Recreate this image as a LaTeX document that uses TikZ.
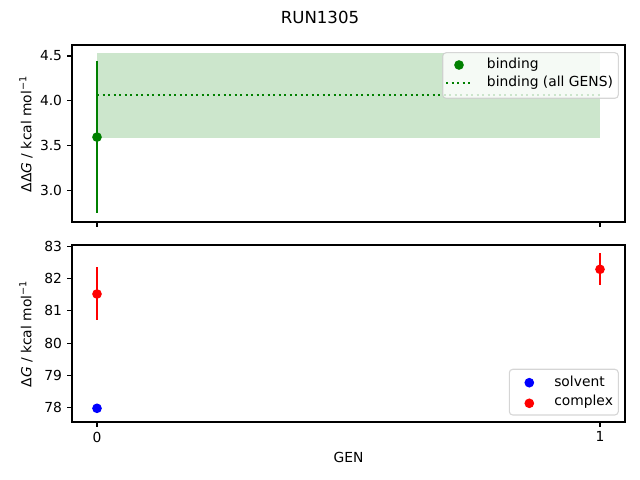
\documentclass[tikz,border=0pt]{standalone}
\usepackage{fontspec}
\setmainfont{DejaVu Sans}
\definecolor{mgreen}{HTML}{008000}
\definecolor{mblue}{HTML}{0000FF}
\definecolor{mred}{HTML}{FF0000}
\definecolor{legedge}{gray}{0.8}
\tikzset{
  spine/.style={line width=0.8pt, black},
  tickmark/.style={line width=0.8pt, black},
  ticklab/.style={font=\fontsize{10}{12}\selectfont, inner sep=0pt},
  errline/.style={line width=1.5pt, line cap=butt},
  dot/.style={circle, fill=#1, draw=none, minimum size=7pt, inner sep=0pt},
  legbox/.style={draw=legedge, fill=white, fill opacity=0.8, draw opacity=0.8, rounded corners=2.5pt, line width=0.8pt},
  labtext/.style={font=\fontsize{10}{12}\selectfont, inner sep=0pt}
}
\newcommand{\supm}{\textsuperscript{\fontsize{7}{8}\selectfont −1}}
\begin{document}
\begin{tikzpicture}[x=0.01in, y=-0.01in]
\useasboundingbox (0,0) rectangle (640,480);
% ---------- title ----------
\node[font=\fontsize{12}{14}\selectfont, inner sep=0pt] (title) at (320,17) {RUN1305};
% ---------- top axes ----------
\fill[mgreen, opacity=0.2] (97,53.3) rectangle (600,138.3);
\draw[mgreen, line width=1.5pt, dash pattern=on 1.5pt off 2.475pt] (97,94.7) -- (600,94.7);
\draw[mgreen, errline] (97,61) -- (97,213.3);
\node[dot=mgreen] (bind0) at (97,137.1) {};
\draw[spine] (72,45) rectangle (625,222);
% y ticks top
\foreach \v/\yy in {4.5/56, 4.0/100.8, 3.5/145.5, 3.0/190.3}{
  \draw[tickmark] (72,\yy) -- (67.14,\yy);
  \node[ticklab, anchor=east] at (62.3,\yy) {\v};
}
% x ticks top (no labels)
\foreach \xx in {97,600}{
  \draw[tickmark] (\xx,222) -- (\xx,226.86);
}
\node[labtext, rotate=90] (ylabtop) at (26,134) {ΔΔ\textit{G} / kcal mol\supm};
% legend top
\draw[legbox] (442.7,52.7) rectangle (618.3,98.3);
\node[dot=mgreen] (legbind) at (459,65) {};
\node[labtext, anchor=west] at (486.7,65) {binding};
\draw[mgreen, line width=1.5pt, dash pattern=on 1.5pt off 2.475pt] (446,82.7) -- (472,82.7);
\node[labtext, anchor=west] at (486.7,83) {binding (all GENS)};
% ---------- bottom axes ----------
\draw[mred, errline] (97,267.3) -- (97,320);
\node[dot=mred] (c0) at (97,294) {};
\draw[mred, errline] (600,253.3) -- (600,285.3);
\node[dot=mred] (c1) at (600,269.3) {};
\draw[mblue, errline] (97,406) -- (97,410.6);
\node[dot=mblue] (s0) at (97,408.3) {};
\draw[spine] (72,245) rectangle (625,422);
\foreach \v in {78,79,80,81,82,83}{
  \pgfmathsetmacro{\yy}{246.7+(83-\v)*32.12}
  \draw[tickmark] (72,\yy) -- (67.14,\yy);
  \node[ticklab, anchor=east] at (62.3,\yy) {\v};
}
\foreach \xx/\lab in {97/0,600/1}{
  \draw[tickmark] (\xx,422) -- (\xx,426.86);
  \node[ticklab, anchor=north] at (\xx,431.5) {\lab};
}
\node[labtext, rotate=90] (ylabbot) at (26,334) {Δ\textit{G} / kcal mol\supm};
\node[labtext] (xlab) at (348.5,457) {GEN};
% legend bottom
\draw[legbox] (509.3,369.3) rectangle (618.3,415);
\node[dot=mblue] (legsolv) at (529.3,382.7) {};
\node[labtext, anchor=west] at (554,381.5) {solvent};
\node[dot=mred] (legcomp) at (529.3,403.3) {};
\node[labtext, anchor=west] at (554,402) {complex};
\end{tikzpicture}
\end{document}
